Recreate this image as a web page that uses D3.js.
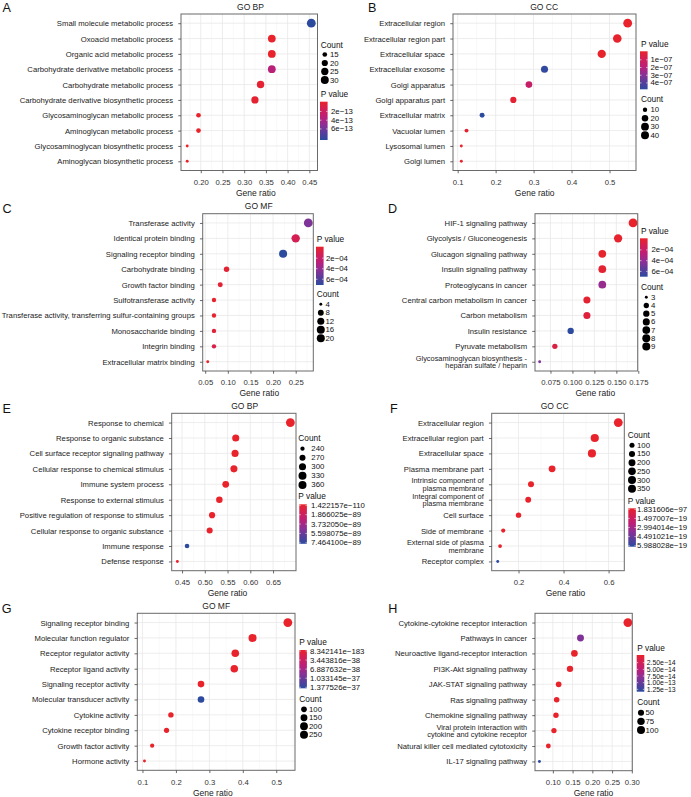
<!DOCTYPE html>
<html><head><meta charset="utf-8">
<script src="https://cdn.jsdelivr.net/npm/d3@7"></script>
<style>
body{margin:0;background:#fff}
svg{display:block}
text{font-family:"Liberation Sans",Arial,Helvetica,sans-serif}
</style>
</head><body>
<svg id="c" width="691" height="797"></svg>
<script>
// ---------------- DATA ----------------
// A  GO BP
const catsA = ["Small molecule metabolic process","Oxoacid metabolic process","Organic acid metabolic process","Carbohydrate derivative metabolic process","Carbohydrate metabolic process","Carbohydrate derivative biosynthetic process","Glycosaminoglycan metabolic process","Aminoglycan metabolic process","Glycosaminoglycan biosynthetic process","Aminoglycan biosynthetic process"];
const ratioA = [0.4545,0.3636,0.3636,0.3636,0.3377,0.3247,0.1948,0.1948,0.1688,0.1688];
const countA = [35,28,28,28,26,25,15,15,13,13];
const pA = [8.3e-13,2e-15,2e-15,3.4e-13,3e-14,2e-14,1e-16,1e-16,1e-17,1e-17];
const xTicksA = ["0.20","0.25","0.30","0.35","0.40","0.45"];
const countBreaksA = [15,20,25,30];
const pBreaksA = [2e-13,4e-13,6e-13];
const pLabelsA = ["2e\u221213","4e\u221213","6e\u221213"];
// B  GO CC
const catsB = ["Extracellular region","Extracellular region part","Extracellular space","Extracellular exosome","Golgi apparatus","Golgi apparatus part","Extracellular matrix","Vacuolar lumen","Lysosomal lumen","Golgi lumen"];
const ratioB = [0.5479,0.5205,0.4795,0.3288,0.2877,0.2466,0.1644,0.1233,0.1096,0.1096];
const countB = [40,38,35,24,21,18,12,9,8,8];
const pB = [2e-9,8e-9,5e-9,4.6e-7,1.45e-7,2e-8,4.7e-7,1.5e-8,1e-8,1e-8];
const xTicksB = ["0.1","0.2","0.3","0.4","0.5"];
const countBreaksB = [10,20,30,40];
const pBreaksB = [1e-7,2e-7,3e-7,4e-7];
const pLabelsB = ["1e\u221207","2e\u221207","3e\u221207","4e\u221207"];
// C  GO MF
const catsC = ["Transferase activity","Identical protein binding","Signaling receptor binding","Carbohydrate binding","Growth factor binding","Sulfotransferase activity","Transferase activity, transferring sulfur-containing groups","Monosaccharide binding","Integrin binding","Extracellular matrix binding"];
const ratioC = [0.2778,0.25,0.2222,0.0972,0.0833,0.0694,0.0694,0.0694,0.0694,0.0556];
const countC = [20,18,16,7,6,5,5,5,5,4];
const pC = [4.6e-4,1.3e-4,6.9e-4,3e-5,4e-5,1e-5,1e-5,5e-5,1e-4,1e-6];
const xTicksC = ["0.05","0.10","0.15","0.20","0.25"];
const countBreaksC = [4,8,12,16,20];
const pBreaksC = [2e-4,4e-4,6e-4];
const pLabelsC = ["2e\u221204","4e\u221204","6e\u221204"];
// D  KEGG
const catsD = ["HIF-1 signaling pathway","Glycolysis / Gluconeogenesis","Glucagon signaling pathway","Insulin signaling pathway","Proteoglycans in cancer","Central carbon metabolism in cancer","Carbon metabolism","Insulin resistance","Pyruvate metabolism","Glycosaminoglycan biosynthesis -\nheparan sulfate / heparin"];
const ratioD = [0.169,0.152,0.134,0.134,0.134,0.1165,0.1165,0.098,0.080,0.0627];
const countD = [9,8,7,7,7,6,6,5,4,3];
const pD = [2e-6,1.5e-5,1e-5,2e-5,3.8e-4,2e-5,6e-5,6.8e-4,8e-5,4.5e-4];
const xTicksD = ["0.075","0.100","0.125","0.150","0.175"];
const countBreaksD = [3,4,5,6,7,8,9];
const pBreaksD = [2e-4,4e-4,6e-4];
const pLabelsD = ["2e\u221204","4e\u221204","6e\u221204"];
// E  GO BP
const catsE = ["Response to chemical","Response to organic substance","Cell surface receptor signaling pathway","Cellular response to chemical stimulus","Immune system process","Response to external stimulus","Positive regulation of response to stimulus","Cellular response to organic substance","Immune response","Defense response"];
const ratioE = [0.688,0.568,0.5665,0.564,0.546,0.532,0.516,0.5107,0.461,0.4397];
const countE = [365,301,300,299,289,282,273,271,244,233];
const pE = [1.422157e-110,5e-100,3e-98,1e-99,2e-96,4e-97,8e-95,3e-96,7.4641e-89,2e-93];
const xTicksE = ["0.45","0.50","0.55","0.60","0.65"];
const countBreaksE = [240,270,300,330,360];
const pBreaksE = [1.422157e-110,1.866025e-89,3.732050e-89,5.598075e-89,7.464100e-89];
const pLabelsE = ["1.422157e\u2212110","1.866025e\u221289","3.732050e\u221289","5.598075e\u221289","7.464100e\u221289"];
// F  GO CC
const catsF = ["Extracellular region","Extracellular region part","Extracellular space","Plasma membrane part","Intrinsic component of\nplasma membrane","Integral component of\nplasma membrane","Cell surface","Side of membrane","External side of plasma\nmembrane","Receptor complex"];
const ratioF = [0.643,0.5386,0.526,0.349,0.2554,0.243,0.2,0.132,0.118,0.1076];
const countF = [360,302,295,195,143,136,112,74,66,60];
const pF = [1.831606e-97,3e-80,1e-78,2e-50,5e-40,3e-38,1e-30,2e-25,4e-24,5.988028e-19];
const xTicksF = ["0.2","0.4","0.6"];
const countBreaksF = [100,150,200,250,300,350];
const pBreaksF = [1.831606e-97,1.497007e-19,2.994014e-19,4.491021e-19,5.988028e-19];
const pLabelsF = ["1.831606e\u221297","1.497007e\u221219","2.994014e\u221219","4.491021e\u221219","5.988028e\u221219"];
// G  GO MF
const catsG = ["Signaling receptor binding","Molecular function regulator","Receptor regulator activity","Receptor ligand activity","Signaling receptor activity","Molecular transducer activity","Cytokine activity","Cytokine receptor binding","Growth factor activity","Hormone activity"];
const ratioG = [0.5346,0.429,0.3775,0.3745,0.275,0.275,0.185,0.172,0.129,0.106];
const countG = [267,215,189,187,138,138,93,86,65,53];
const pG = [8.342141e-183,1e-120,3e-100,1e-98,2e-60,1.377526e-37,1e-50,1e-45,1e-40,1e-42];
const xTicksG = ["0.1","0.2","0.3","0.4","0.5"];
const countBreaksG = [100,150,200,250];
const pBreaksG = [8.342141e-183,3.443816e-38,6.887632e-38,1.033145e-37,1.377526e-37];
const pLabelsG = ["8.342141e\u2212183","3.443816e\u221238","6.887632e\u221238","1.033145e\u221237","1.377526e\u221237"];
// H  KEGG
const catsH = ["Cytokine-cytokine receptor interaction","Pathways in cancer","Neuroactive ligand-receptor interaction","PI3K-Akt signaling pathway","JAK-STAT signaling pathway","Ras signaling pathway","Chemokine signaling pathway","Viral protein interaction with\ncytokine and cytokine receptor","Natural killer cell mediated cytotoxicity","IL-17 signaling pathway"];
const ratioH = [0.29,0.17,0.1546,0.1434,0.1147,0.1097,0.1079,0.1028,0.0886,0.066];
const countH = [110,65,59,54,44,42,41,39,34,25];
const pH = [1e-30,8.5e-14,1e-16,5e-16,2e-16,4e-16,3e-16,1e-16,6e-16,1.3e-13];
const xTicksH = ["0.10","0.15","0.20","0.25","0.30"];
const countBreaksH = [50,75,100];
const pBreaksH = [2.5e-14,5e-14,7.5e-14,1e-13,1.25e-13];
const pLabelsH = ["2.50e\u221214","5.00e\u221214","7.50e\u221214","1.00e\u221213","1.25e\u221213"];

// ---------------- LAYOUT / STYLE ----------------
const PALETTE = ["#e8232b","#d21f55","#bb1f78","#8e2f94","#5a3d9a","#2c4a9e"];
const R0 = 1.45, R1 = 4.4;
const AX = 7.7, TT = 8.5, LT = 8.3, LL = 7.8;

const panels = [
 {cats:catsA, ratio:ratioA, count:countA, p:pA, xt:xTicksA, cb:countBreaksA, pb:pBreaksA, pl:pLabelsA,
  L:{left:181,right:317.5,top:14,bottom:170.5,title:"GO BP",titleX:250.5,xTitleX:255.8,letter:"A",lx:2.6,ly:11.8,
     titleLX:320.7,cTY:44.5,cY0:54.5,cStep:8.5,cx:324.8,cLX:330,pTY:94.3,barX:320,barTop:101.7,barH:38.3,pLX:331,ll:LL}},
 {cats:catsB, ratio:ratioB, count:countB, p:pB, xt:xTicksB, cb:countBreaksB, pb:pBreaksB, pl:pLabelsB,
  L:{left:453,right:636,top:14,bottom:170.5,title:"GO CC",titleX:544.2,xTitleX:534.7,letter:"B",lx:368,ly:11.8,
     titleLX:641,cTY:99.3,cY0:109.7,cStep:8.5,cx:645,cLX:650.5,pTY:44.3,barX:640,barTop:51.3,barH:38,pLX:650.5,ll:LL}},
 {cats:catsC, ratio:ratioC, count:countC, p:pC, xt:xTicksC, cb:countBreaksC, pb:pBreaksC, pl:pLabelsC,
  L:{left:202.7,right:313.3,top:213.7,bottom:371,title:"GO MF",titleX:258.7,xTitleX:259.3,letter:"C",lx:2.6,ly:213.3,
     titleLX:316.7,cTY:294.3,cY0:304.3,cStep:8.5,cx:320.8,cLX:325.5,pTY:239.3,barX:316,barTop:246.7,barH:38.3,pLX:326,ll:LL}},
 {cats:catsD, ratio:ratioD, count:countD, p:pD, xt:xTicksD, cb:countBreaksD, pb:pBreaksD, pl:pLabelsD,
  L:{left:535,right:637.7,top:213.7,bottom:371,title:null,xTitleX:595.3,letter:"D",lx:388,ly:213.2,
     titleLX:641,cTY:286.7,cY0:297.3,cStep:8.2,cx:646.3,cLX:651,pTY:231,barX:640,barTop:238.3,barH:38.4,pLX:651.5,ll:LL}},
 {cats:catsE, ratio:ratioE, count:countE, p:pE, xt:xTicksE, cb:countBreaksE, pb:pBreaksE, pl:pLabelsE,
  L:{left:171.7,right:296,top:413.3,bottom:570.7,title:"GO BP",titleX:244.7,xTitleX:227.5,letter:"E",lx:2.6,ly:412.8,
     titleLX:298.3,cTY:437.7,cY0:448.7,cStep:9.05,cx:302.5,cLX:311.3,pTY:496.2,barX:299.3,barTop:504.3,barH:39.5,pLX:311,ll:LL}},
 {cats:catsF, ratio:ratioF, count:countF, p:pF, xt:xTicksF, cb:countBreaksF, pb:pBreaksF, pl:pLabelsF,
  L:{left:491.7,right:624.3,top:413.3,bottom:570.7,title:"GO CC",titleX:554.7,xTitleX:565.5,letter:"F",lx:390,ly:413,
     titleLX:627.7,cTY:435,cY0:445.3,cStep:8.68,cx:632,cLX:637,pTY:500.6,barX:628.3,barTop:508.3,barH:38.4,pLX:637,ll:LL}},
 {cats:catsG, ratio:ratioG, count:countG, p:pG, xt:xTicksG, cb:countBreaksG, pb:pBreaksG, pl:pLabelsG,
  L:{left:137.3,right:295,top:613.3,bottom:770.3,title:"GO MF",titleX:216.2,xTitleX:212.8,letter:"G",lx:1.7,ly:612.8,
     titleLX:299.3,cTY:699,cY0:709.3,cStep:8.47,cx:304,cLX:309,pTY:641.7,barX:299.3,barTop:650,barH:38.3,pLX:310,ll:LL}},
 {cats:catsH, ratio:ratioH, count:countH, p:pH, xt:xTicksH, cb:countBreaksH, pb:pBreaksH, pl:pLabelsH,
  L:{left:535,right:632.3,top:613.3,bottom:770.7,title:null,xTitleX:593.5,letter:"H",lx:388.3,ly:613,
     titleLX:637.3,cTY:702.3,cY0:712.7,cStep:8.65,cx:641,cLX:645.5,pTY:648.3,barX:636.7,barTop:655,barH:36.7,pLX:646.7,ll:6.9}}
];

const svg = d3.select("#c");
const defs = svg.append("defs");
const ramp = d3.piecewise(d3.interpolateRgb, PALETTE);

function drawPanel(d, idx){
  const L = d.L;
  const g = svg.append("g");
  const ext = d3.extent(d.ratio), span = ext[1]-ext[0];
  const x = d3.scaleLinear().domain([ext[0]-0.05*span, ext[1]+0.05*span]).range([L.left, L.right]);
  const y = d3.scalePoint().domain(d.cats).range([L.top, L.bottom]).padding(0.6);
  const cExt = d3.extent(d.count);
  const tS = d3.scaleLinear().domain(cExt).range([0,1]);
  const rad = v => R0 + Math.sqrt(Math.max(0,tS(v)))*(R1-R0);
  const pExt = d3.extent(d.p);
  const pT = d3.scaleLinear().domain(pExt).range([0,1]).clamp(true);
  const col = v => ramp(pT(v));

  const ticks = d.xt.map(Number);
  const step = ticks[1]-ticks[0];
  const dom = x.domain();
  const minor = [];
  for (let v = ticks[0]-step/2; v <= dom[1]; v += step) if (v >= dom[0]) minor.push(v);

  g.append("rect").attr("x",L.left).attr("y",L.top).attr("width",L.right-L.left).attr("height",L.bottom-L.top).attr("fill","#fff");
  g.append("g").selectAll("line").data(minor).join("line")
    .attr("x1",v=>x(v)).attr("x2",v=>x(v)).attr("y1",L.top).attr("y2",L.bottom)
    .attr("stroke","#f2f2f2").attr("stroke-width",0.5);
  g.append("g").selectAll("line").data(ticks).join("line")
    .attr("x1",v=>x(v)).attr("x2",v=>x(v)).attr("y1",L.top).attr("y2",L.bottom)
    .attr("stroke","#e8e8e8").attr("stroke-width",0.8);
  g.append("g").selectAll("line").data(d.cats).join("line")
    .attr("x1",L.left).attr("x2",L.right).attr("y1",c=>y(c)).attr("y2",c=>y(c))
    .attr("stroke","#e8e8e8").attr("stroke-width",0.8);

  g.append("g").selectAll("circle").data(d.cats.map((c,i)=>({c, r:d.ratio[i], n:d.count[i], p:d.p[i]}))).join("circle")
    .attr("cx",e=>x(e.r)).attr("cy",e=>y(e.c)).attr("r",e=>rad(e.n)).attr("fill",e=>col(e.p));

  g.append("rect").attr("x",L.left).attr("y",L.top).attr("width",L.right-L.left).attr("height",L.bottom-L.top)
    .attr("fill","none").attr("stroke","#6a6a6a").attr("stroke-width",1);

  const gx = g.append("g").attr("transform",`translate(0,${L.bottom})`)
    .call(d3.axisBottom(x).tickValues(ticks).tickFormat((v,i)=>d.xt[i]).tickSize(2.75).tickPadding(6.2));
  gx.attr("font-family",null).attr("font-size",AX);
  gx.select(".domain").remove();
  gx.selectAll("line").attr("stroke","#444").attr("stroke-width",0.8);
  gx.selectAll("text").attr("fill","#333");

  const pad = 5.2;
  const gy = g.append("g").attr("transform",`translate(${L.left},0)`)
    .call(d3.axisLeft(y).tickSize(2.75).tickPadding(pad));
  gy.attr("font-family",null).attr("font-size",AX);
  gy.select(".domain").remove();
  gy.selectAll("line").attr("stroke","#444").attr("stroke-width",0.8);
  gy.selectAll(".tick text").attr("fill","#222").each(function(c){
    const lines = c.split("\n");
    if (lines.length > 1){
      const t = d3.select(this);
      t.text(null).attr("dy",null).attr("font-size",7.4);
      const lh = 1.02;
      lines.forEach((ln,i)=>{
        t.append("tspan").attr("x",-(2.75+pad))
          .attr("dy", i===0 ? (0.32 - (lines.length-1)/2*lh)+"em" : lh+"em").text(ln);
      });
    }
  });

  g.append("text").attr("x",L.xTitleX).attr("y",L.bottom+25.3).attr("text-anchor","middle")
    .attr("font-size",TT).attr("fill","#222").text("Gene ratio");
  if (L.title) g.append("text").attr("x",L.titleX).attr("y",L.top-4.3).attr("text-anchor","middle")
    .attr("font-size",TT).attr("fill","#222").text(L.title);
  g.append("text").attr("x",L.lx).attr("y",L.ly).attr("font-size",12.6).attr("fill","#111").text(L.letter);

  const lg = g.append("g");
  lg.append("text").attr("x",L.titleLX).attr("y",L.cTY).attr("dominant-baseline","central")
    .attr("font-size",LT).attr("fill","#111").text("Count");
  const items = lg.append("g").selectAll("g").data(d.cb).join("g")
    .attr("transform",(v,i)=>`translate(0,${L.cY0+i*L.cStep})`);
  items.append("circle").attr("cx",L.cx).attr("cy",0).attr("r",v=>Math.min(rad(v),4.0)).attr("fill","#000");
  items.append("text").attr("x",L.cLX).attr("y",0).attr("dominant-baseline","central")
    .attr("font-size",LL).attr("fill","#111").text(v=>v);

  lg.append("text").attr("x",L.titleLX).attr("y",L.pTY).attr("dominant-baseline","central")
    .attr("font-size",LT).attr("fill","#111").text("P value");
  const gid = "grad"+idx;
  const grad = defs.append("linearGradient").attr("id",gid).attr("x1",0).attr("x2",0).attr("y1",0).attr("y2",1);
  d3.range(0,1.0001,0.05).forEach(t=>{
    grad.append("stop").attr("offset",t).attr("stop-color", ramp(t));
  });
  const bw = 7.6;
  lg.append("rect").attr("x",L.barX).attr("y",L.barTop).attr("width",bw).attr("height",L.barH).attr("fill",`url(#${gid})`);
  const by = d3.scaleLinear().domain(pExt).range([L.barTop+1, L.barTop+L.barH-1]);
  const tk = lg.append("g").selectAll("g").data(d.pb).join("g").attr("transform",v=>`translate(0,${by(v)})`);
  tk.append("line").attr("x1",L.barX).attr("x2",L.barX+1.5).attr("stroke","#fff").attr("stroke-width",0.6);
  tk.append("line").attr("x1",L.barX+bw-1.5).attr("x2",L.barX+bw).attr("stroke","#fff").attr("stroke-width",0.6);
  tk.append("text").attr("x",L.pLX).attr("y",0).attr("dominant-baseline","central")
    .attr("font-size",L.ll).attr("fill","#111").text((v,i)=>d.pl[i]);
}

panels.forEach(drawPanel);
</script>
</body></html>
